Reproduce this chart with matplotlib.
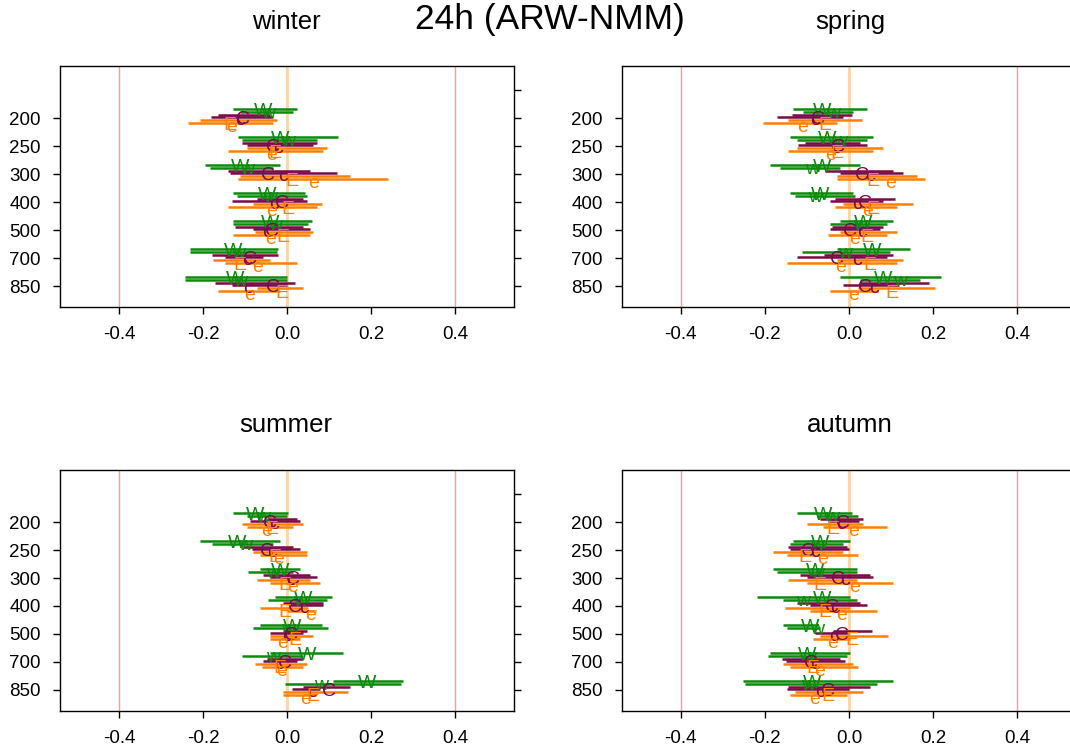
import numpy as np
import matplotlib
matplotlib.use('Agg')
from matplotlib import pyplot as plt

plt.rcParams['font.family'] = ['Liberation Sans', 'DejaVu Sans']

levels = ['200', '250', '300', '400', '500', '700', '850']
series = ['W', 'w', 'C', 'c', 'E', 'e']
series_colors = ['#0b8a0b', '#0b8a0b', '#7a0a48', '#7a0a48', '#ff8000', '#ff8000']

# rows = levels, columns = W, w, C, c, E, e
winter_mid = [[-0.057, -0.045, -0.105, -0.112, -0.136, -0.131],
              [-0.017, 0.002, -0.033, -0.021, -0.029, -0.036],
              [-0.112, -0.095, -0.045, -0.010, 0.012, 0.062],
              [-0.048, -0.040, -0.012, -0.030, 0.002, -0.036],
              [-0.040, -0.029, -0.035, -0.048, -0.010, -0.040],
              [-0.129, -0.117, -0.088, -0.095, -0.112, -0.069],
              [-0.124, -0.112, -0.033, -0.093, -0.012, -0.088]]
winter_lo = [[-0.129, -0.112, -0.164, -0.180, -0.207, -0.236],
             [-0.117, -0.107, -0.107, -0.095, -0.095, -0.140],
             [-0.195, -0.183, -0.140, -0.136, -0.112, -0.117],
             [-0.129, -0.120, -0.071, -0.131, -0.081, -0.140],
             [-0.129, -0.129, -0.124, -0.081, -0.076, -0.129],
             [-0.231, -0.231, -0.179, -0.148, -0.176, -0.148],
             [-0.243, -0.243, -0.171, -0.131, -0.071, -0.164]]
winter_hi = [[0.024, 0.014, -0.040, -0.033, -0.024, -0.033],
             [0.121, 0.071, 0.071, 0.062, 0.095, 0.086],
             [-0.017, -0.033, 0.055, 0.119, 0.150, 0.240],
             [0.043, 0.048, 0.038, 0.048, 0.083, 0.071],
             [0.060, 0.050, 0.038, 0.055, 0.062, 0.055],
             [-0.021, -0.024, -0.021, -0.057, -0.040, 0.024],
             [0.000, 0.000, 0.019, 0.000, 0.038, -0.017]]

spring_mid = [[-0.064, -0.038, -0.074, -0.081, -0.057, -0.110],
              [-0.052, -0.021, -0.026, -0.030, -0.029, -0.045],
              [-0.064, -0.088, 0.031, 0.050, 0.057, 0.098],
              [-0.069, -0.081, 0.038, 0.019, 0.057, 0.045],
              [0.033, 0.026, 0.002, 0.030, 0.043, 0.014],
              [0.055, -0.010, -0.029, 0.020, 0.050, -0.021],
              [0.081, 0.121, 0.038, 0.060, 0.102, 0.010]]
spring_lo = [[-0.133, -0.110, -0.136, -0.171, -0.145, -0.205],
             [-0.140, -0.124, -0.105, -0.121, -0.124, -0.145],
             [-0.188, -0.164, -0.057, -0.021, -0.029, -0.029],
             [-0.140, -0.129, -0.033, -0.045, -0.014, -0.033],
             [-0.021, -0.045, -0.040, -0.045, -0.021, -0.050],
             [-0.029, -0.112, -0.060, -0.124, -0.029, -0.148],
             [-0.021, 0.026, 0.026, -0.015, 0.021, -0.045]]
spring_hi = [[0.043, 0.010, 0.007, -0.014, 0.031, -0.029],
             [0.057, 0.043, 0.026, 0.043, 0.081, 0.057],
             [0.026, -0.021, 0.105, 0.129, 0.162, 0.181],
             [0.010, 0.014, 0.110, 0.081, 0.152, 0.114],
             [0.105, 0.090, 0.081, 0.074, 0.114, 0.090],
             [0.145, 0.098, 0.105, 0.090, 0.129, 0.114],
             [0.219, 0.170, 0.190, 0.120, 0.205, 0.070]]

summer_mid = [[-0.076, -0.057, -0.040, -0.030, -0.036, -0.048],
              [-0.119, -0.100, -0.048, -0.035, -0.029, -0.021],
              [-0.017, -0.033, 0.014, 0.010, -0.005, 0.014],
              [0.038, 0.030, 0.019, 0.040, -0.005, 0.055],
              [0.012, 0.002, 0.010, 0.000, 0.019, -0.010],
              [0.048, -0.033, -0.005, -0.020, -0.017, -0.012],
              [0.190, 0.080, 0.100, 0.060, 0.062, 0.043]]
summer_lo = [[-0.129, -0.095, -0.048, -0.088, -0.107, -0.095],
             [-0.207, -0.179, -0.105, -0.083, -0.081, -0.064],
             [-0.064, -0.093, -0.057, -0.040, -0.071, -0.040],
             [-0.029, -0.045, -0.010, 0.007, -0.064, 0.000],
             [-0.064, -0.081, -0.010, -0.040, -0.040, -0.040],
             [-0.040, -0.107, -0.048, -0.057, -0.076, -0.060],
             [0.110, -0.005, 0.038, 0.012, -0.010, -0.010]]
summer_hi = [[0.002, 0.000, 0.024, 0.031, 0.038, 0.014],
             [-0.017, -0.033, 0.014, 0.031, 0.048, 0.048],
             [0.031, 0.014, 0.055, 0.071, 0.055, 0.079],
             [0.107, 0.095, 0.086, 0.086, 0.050, 0.070],
             [0.083, 0.098, 0.048, 0.038, 0.062, 0.030],
             [0.133, 0.038, 0.038, 0.024, 0.048, 0.038],
             [0.276, 0.270, 0.150, 0.079, 0.145, 0.070]]

autumn_mid = [[-0.062, -0.040, -0.014, -0.020, -0.038, 0.010],
              [-0.069, -0.075, -0.098, -0.080, -0.105, -0.064],
              [-0.081, -0.075, -0.026, -0.010, -0.069, 0.014],
              [-0.064, -0.110, -0.040, -0.033, -0.057, -0.017],
              [-0.093, -0.076, -0.017, -0.035, 0.007, -0.038],
              [-0.100, -0.095, -0.090, -0.080, -0.086, -0.069],
              [-0.088, -0.098, -0.050, -0.070, -0.050, -0.081]]
autumn_lo = [[-0.124, -0.076, -0.069, -0.050, -0.100, -0.062],
             [-0.133, -0.140, -0.145, -0.140, -0.181, -0.148],
             [-0.181, -0.171, -0.117, -0.100, -0.145, -0.100],
             [-0.219, -0.157, -0.124, -0.093, -0.152, -0.093],
             [-0.157, -0.148, -0.038, -0.080, -0.069, -0.086],
             [-0.188, -0.193, -0.160, -0.150, -0.157, -0.140],
             [-0.252, -0.248, -0.145, -0.148, -0.129, -0.140]]
autumn_hi = [[0.007, 0.021, 0.033, 0.024, 0.033, 0.090],
             [0.002, -0.014, -0.005, 0.000, -0.014, 0.021],
             [0.019, 0.019, 0.050, 0.057, 0.019, 0.105],
             [0.002, 0.019, 0.026, 0.043, 0.002, 0.067],
             [-0.076, -0.069, 0.055, 0.000, 0.093, 0.002],
             [0.002, -0.005, -0.021, -0.010, 0.010, 0.021],
             [0.105, 0.067, 0.050, 0.000, 0.033, -0.005]]

# vertical offsets (in level units) of lines and letters for each series
line_off = [-0.33, -0.23, -0.12, -0.02, 0.08, 0.19]
text_off = [-0.22, -0.15, 0.05, 0.10, 0.25, 0.33]

fig = plt.figure(figsize=(10.7, 7.53), dpi=100)

panels = [('winter', winter_mid, winter_lo, winter_hi, [0.0561, 0.5923, 0.4243, 0.32], (286, 22)),
          ('spring', spring_mid, spring_lo, spring_hi, [0.5813, 0.5923, 0.4243, 0.32], (850, 22)),
          ('summer', summer_mid, summer_lo, summer_hi, [0.0561, 0.0558, 0.4243, 0.32], (286, 425)),
          ('autumn', autumn_mid, autumn_lo, autumn_hi, [0.5813, 0.0558, 0.4243, 0.32], (850, 425))]

for name, mid, lo, hi, rect, tpos in panels:
    ax = fig.add_axes(rect)
    ax.axvline(-0.4, color='#f4a0a0', lw=1, zorder=1)
    ax.axvline(0.4, color='#f4a0a0', lw=1, zorder=1)
    ax.axvline(0.0, color='#ffd49a', lw=2, zorder=1)
    mid = np.array(mid)
    lo = np.array(lo)
    hi = np.array(hi)
    pos = np.arange(1, len(levels) + 1)
    for j in range(len(series)):
        ax.hlines(pos + line_off[j], lo[:, j], hi[:, j], color=series_colors[j], lw=1.8, zorder=2)
    for j in range(len(series)):
        for i in range(len(levels)):
            ax.text(mid[i, j], pos[i] + text_off[j], series[j], color=series_colors[j],
                    fontsize=14, ha='center', va='center', zorder=3)
    ax.set_xlim(-0.54, 0.54)
    ax.set_ylim(7.75, -0.857)
    ax.set_xticks([-0.4, -0.2, 0.0, 0.2, 0.4])
    ax.set_xticklabels(['-0.4', '-0.2', '0.0', '0.2', '0.4'])
    ax.set_yticks(pos)
    ax.set_yticklabels(levels)
    ax.tick_params(axis='both', direction='out', length=5, width=1, labelsize=13.5, pad=9)
    sec = ax.secondary_yaxis('right')
    sec.set_yticks(range(0, 8))
    sec.set_yticklabels([])
    sec.tick_params(direction='out', length=5, width=1)
    sec.spines['right'].set_visible(False)
    for s in ax.spines.values():
        s.set_linewidth(1)
    fig.text(tpos[0] / 1070, 1 - tpos[1] / 753, name, fontsize=18.5, ha='center', va='center')

fig.text(550 / 1070, 1 - 20 / 753, '24h (ARW-NMM)', fontsize=25.5, ha='center', va='center')

plt.savefig('out.png', dpi=100)
